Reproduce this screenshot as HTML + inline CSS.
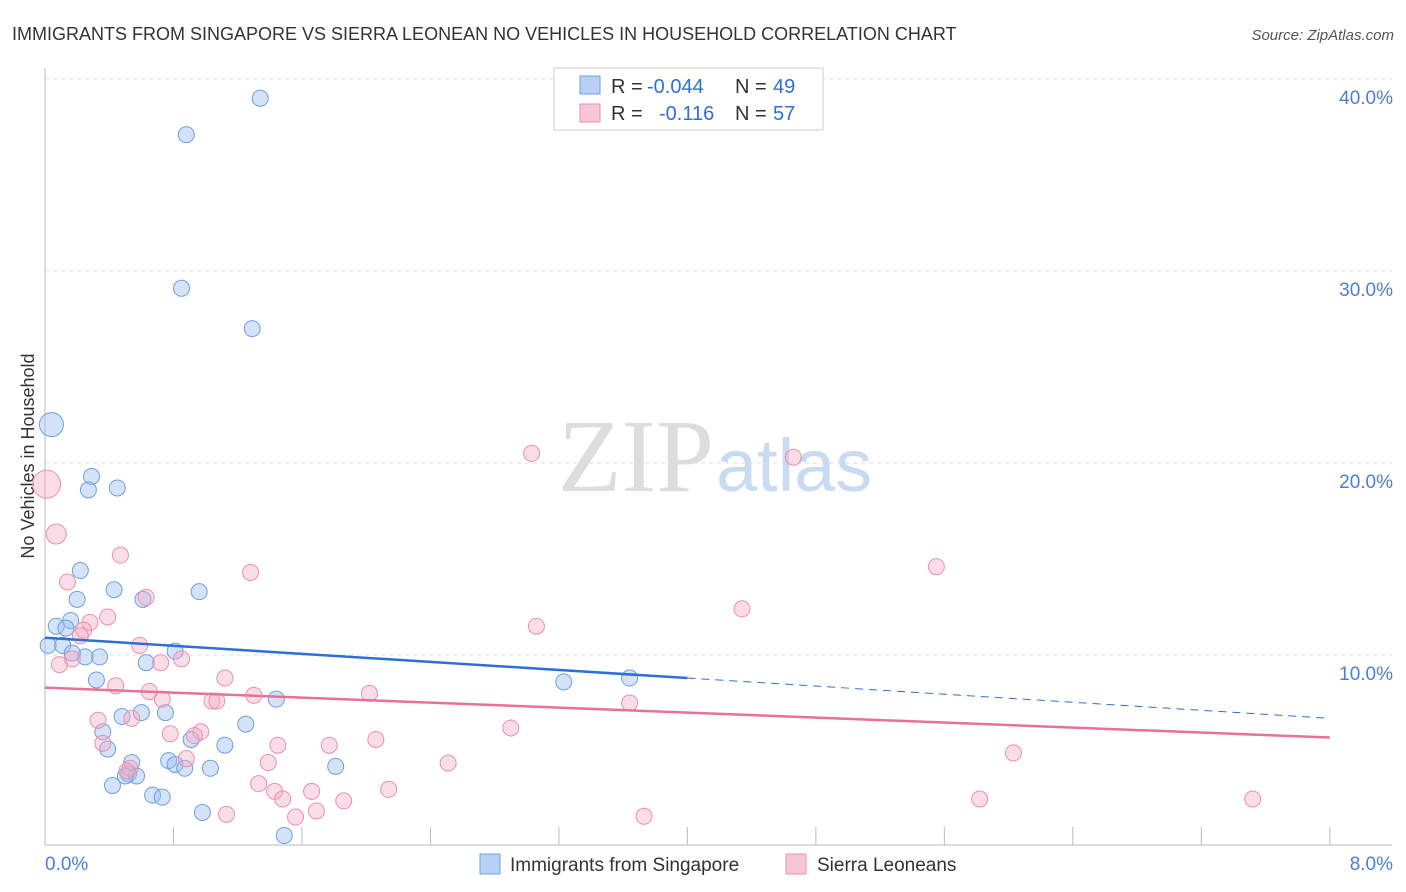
<!DOCTYPE html>
<html><head><meta charset="utf-8">
<style>
body{margin:0;background:#fff;font-family:"Liberation Sans",sans-serif;}
#c{position:relative;width:1406px;height:892px;overflow:hidden}
</style></head>
<body>
<div id="c">
<svg id="s" width="1406" height="892" xmlns="http://www.w3.org/2000/svg">
<text x="12" y="40" font-size="18" fill="#333">IMMIGRANTS FROM SINGAPORE VS SIERRA LEONEAN NO VEHICLES IN HOUSEHOLD CORRELATION CHART</text>
<text x="1394" y="40" font-size="15" fill="#555" font-style="italic" text-anchor="end">Source: ZipAtlas.com</text>
<text transform="translate(34,456) rotate(-90)" font-size="18" fill="#333" text-anchor="middle">No Vehicles in Household</text>
<text x="714" y="491" font-size="104" fill="#ddd" text-anchor="end" font-family="Liberation Serif">ZIP</text>
<text x="716" y="491" font-size="74" fill="#c9daf3">atlas</text>
<g id="grid"></g><g id="pts"></g><g id="trend"></g>
<g>
<rect x="554" y="68" width="269" height="62" fill="#fff" stroke="#ccc"/>
<rect x="580" y="76" width="20" height="18" fill="#b8d0f5" stroke="#6e9fe0"/>
<rect x="580" y="104" width="20" height="18" fill="#f9c6d6" stroke="#e890b0"/>
<text x="611" y="93" font-size="20" fill="#333">R =</text>
<text x="647" y="93" font-size="20" fill="#2e6fd6">-0.044</text>
<text x="735" y="93" font-size="20" fill="#333">N =</text>
<text x="773" y="93" font-size="20" fill="#2e6fd6">49</text>
<text x="611" y="120" font-size="20" fill="#333">R =</text>
<text x="659" y="120" font-size="20" fill="#2e6fd6">-0.116</text>
<text x="735" y="120" font-size="20" fill="#333">N =</text>
<text x="773" y="120" font-size="20" fill="#2e6fd6">57</text>
</g>
<g>
<rect x="480" y="854" width="20" height="20" fill="#b8d0f5" stroke="#6e9fe0"/>
<text x="510" y="871" font-size="19" fill="#333">Immigrants from Singapore</text>
<rect x="786" y="854" width="20" height="20" fill="#f9c6d6" stroke="#e890b0"/>
<text x="817" y="871" font-size="19" fill="#333">Sierra Leoneans</text>
</g>
</svg>
</div>
<script>
const yTicks=[10,20,30,40];
const xTickLabels=["0.0%","8.0%"];
const blueX=[1.34,0.88,0.85,1.29,0.04,0.29,0.27,0.45,0.22,0.43,0.96,0.61,0.20,0.16,0.07,0.13,0.02,0.11,0.25,0.34,0.81,0.63,0.17,0.32,1.44,0.75,0.60,0.48,1.25,0.36,0.91,1.12,0.39,0.54,0.77,0.81,0.87,1.03,1.81,0.52,0.57,0.50,0.42,0.67,0.73,0.98,1.49,3.23,3.64];
const blueY=[39.0,37.1,29.1,27.0,22.0,19.3,18.6,18.7,14.4,13.4,13.3,12.9,12.9,11.8,11.5,11.4,10.5,10.5,9.9,9.9,10.2,9.6,10.1,8.7,7.7,7.0,7.0,6.8,6.4,6.0,5.6,5.3,5.1,4.4,4.5,4.3,4.1,4.1,4.2,3.8,3.7,3.7,3.2,2.7,2.6,1.8,0.6,8.6,8.8];
const blueR=[8,8,8,8,12,8,8,8,8,8,8,8,8,8,8,8,8,8,8,8,8,8,8,8,8,8,8,8,8,8,8,8,8,8,8,8,8,8,8,8,8,8,8,8,8,8,8,8,8];
const pinkX=[0.01,0.07,3.03,4.66,0.47,0.14,1.28,0.63,0.39,0.28,0.24,3.06,5.55,4.34,0.22,0.59,0.72,0.17,0.85,0.09,1.12,0.44,0.65,0.73,1.30,2.02,1.04,1.07,3.64,0.33,2.90,0.78,0.97,0.93,0.54,0.36,1.45,1.77,2.06,6.03,0.88,1.39,2.51,0.53,0.51,1.33,2.14,1.43,1.66,1.48,1.86,5.82,7.52,1.69,1.13,1.56,3.73];
const pinkY=[18.9,16.3,20.5,20.3,15.2,13.8,14.3,13.0,11.98,11.7,11.3,11.5,14.6,12.4,11.0,10.5,9.6,9.8,9.8,9.5,8.8,8.4,8.1,7.7,7.9,8.0,7.6,7.6,7.5,6.6,6.2,5.9,6.0,5.8,6.7,5.4,5.3,5.3,5.6,4.9,4.6,4.4,4.37,4.1,3.96,3.3,3.0,2.9,2.9,2.5,2.4,2.5,2.5,1.875,1.7,1.56,1.6];
const pinkR=[14,10,8,8,8,8,8,8,8,8,8,8,8,8,8,8,8,8,8,8,8,8,8,8,8,8,8,8,8,8,8,8,8,8,8,8,8,8,8,8,8,8,8,8,8,8,8,8,8,8,8,8,8,8,8,8,8];
const blueTrend=[10.9,6.7], pinkTrend=[8.3,5.7], blueSolidEnd=4.0;
const X=v=>45+v*160.6, Y=v=>847-v*19.2;
const NS="http://www.w3.org/2000/svg";
function mk(t,a,p){const e=document.createElementNS(NS,t);for(const k in a)e.setAttribute(k,a[k]);p.appendChild(e);return e;}
const g=document.getElementById('grid');
yTicks.forEach(t=>{
 const l=mk('line',{x1:45,x2:1392,y1:Y(t),y2:Y(t),stroke:'#ddd','stroke-dasharray':'4,4'},g);
 
 
 const tx=mk('text',{x:1393,y:Y(t)+25,'font-size':19,fill:'#4a7fd6','text-anchor':'end'},g);
 tx.textContent=t.toFixed(1)+'%';
 
 
});
mk('line',{x1:45,x2:45,y1:68,y2:845,stroke:'#bbb'},g);
mk('line',{x1:45,x2:1392,y1:845,y2:845,stroke:'#bbb'},g);
for(let i=1;i<=10;i++){const x=X(i*0.8);const tk=mk('line',{x1:x,x2:x,y1:827,y2:845,stroke:'#bbb'},g);
 
 }
const xl=[[0,'start',45],[8,'end',1393]];
xl.forEach((d,i)=>{const t=mk('text',{x:d[2],y:870,'font-size':19,fill:'#4a7fd6','text-anchor':d[1]},g);t.textContent=xTickLabels[i];
 
 });
const p=document.getElementById('pts');
blueX.forEach((v,i)=>{const c=mk('circle',{cx:X(v),cy:Y(blueY[i]),r:blueR[i],fill:'rgba(160,192,240,0.45)',stroke:'#6e9fe0','stroke-width':1},p);
 
 });
pinkX.forEach((v,i)=>{const c=mk('circle',{cx:X(v),cy:Y(pinkY[i]),r:pinkR[i],fill:'rgba(245,170,196,0.4)',stroke:'#e890b0','stroke-width':1},p);
 
 });
const tr=document.getElementById('trend');
const by=x=>blueTrend[0]+(blueTrend[1]-blueTrend[0])*x/8;
const b1=mk('line',{x1:X(0),y1:Y(by(0)),x2:X(blueSolidEnd),y2:Y(by(blueSolidEnd)),stroke:'#2e6fd6','stroke-width':2.5},tr);


const b2=mk('line',{x1:X(blueSolidEnd),y1:Y(by(blueSolidEnd)),x2:X(8),y2:Y(by(8)),stroke:'#2e6fd6','stroke-width':1,'stroke-dasharray':'8,6'},tr);


const pl=mk('line',{x1:X(0),y1:Y(pinkTrend[0]),x2:X(8),y2:Y(pinkTrend[1]),stroke:'#e8709a','stroke-width':2.5},tr);


</script>
</body></html>
